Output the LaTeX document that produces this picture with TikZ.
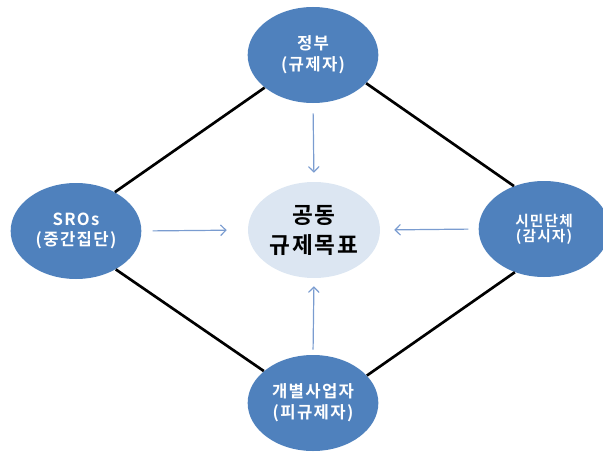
\documentclass[tikz,border=0pt]{standalone}
\usepackage{fontspec}
\setmainfont{Noto Sans CJK KR}[BoldFont={Noto Sans CJK KR Bold},LetterSpace=8]
\usetikzlibrary{shapes.geometric,arrows.meta}
\definecolor{nodeblue}{HTML}{4F81BD}
\definecolor{goalfill}{HTML}{DCE6F2}
\definecolor{arrblue}{HTML}{7A9CD0}
\begin{document}
\begin{tikzpicture}[x=0.75pt,y=-0.75pt,
  actor/.style={ellipse,fill=nodeblue,minimum width=98pt,minimum height=72pt,inner sep=0pt,text=white,font=\bfseries\fontsize{12.5}{15.5}\selectfont,align=center},
  goal/.style={ellipse,fill=goalfill,minimum width=99pt,minimum height=72pt,inner sep=0pt,font=\bfseries\fontsize{17}{22.5}\selectfont,align=center},
  link/.style={line width=2pt,black},
  flow/.style={arrblue,line width=0.9pt,-{Straight Barb[length=4pt,width=8pt]}}]
\useasboundingbox (0,0) rectangle (603,453);
\clip (0,0) rectangle (603,453);
\node[actor] (top) at (313,55) {정부\\(규제자)};
\node[actor] (left) at (76,231) {SROs\\(중간집단)};
\node[actor,font=\bfseries\fontsize{11}{11.5}\selectfont] (right) at (544,229) {시민단체\\(감시자)};
\node[actor] (bottom) at (313,403) {개별사업자\\(피규제자)};
\node[goal] (goal) at (314,230) {공동\\규제목표};
\draw[link] (top.214) -- (left.45);
\draw[link] (top.332) -- (right.125);
\draw[link] (left.316) -- (bottom.147);
\draw[link] (bottom.27) -- (right.236);
\draw[flow,shorten <=7.5pt,shorten >=6.75pt] (top.south) -- (goal.north);
\draw[flow,shorten <=8.25pt,shorten >=15.75pt] (left.east) -- (goal.west);
\draw[flow,shorten <=7.5pt,shorten >=10.5pt] (right.west) -- (goal.east);
\draw[flow,shorten <=3.75pt,shorten >=6pt] (bottom.north) -- (goal.south);
\end{tikzpicture}
\end{document}
